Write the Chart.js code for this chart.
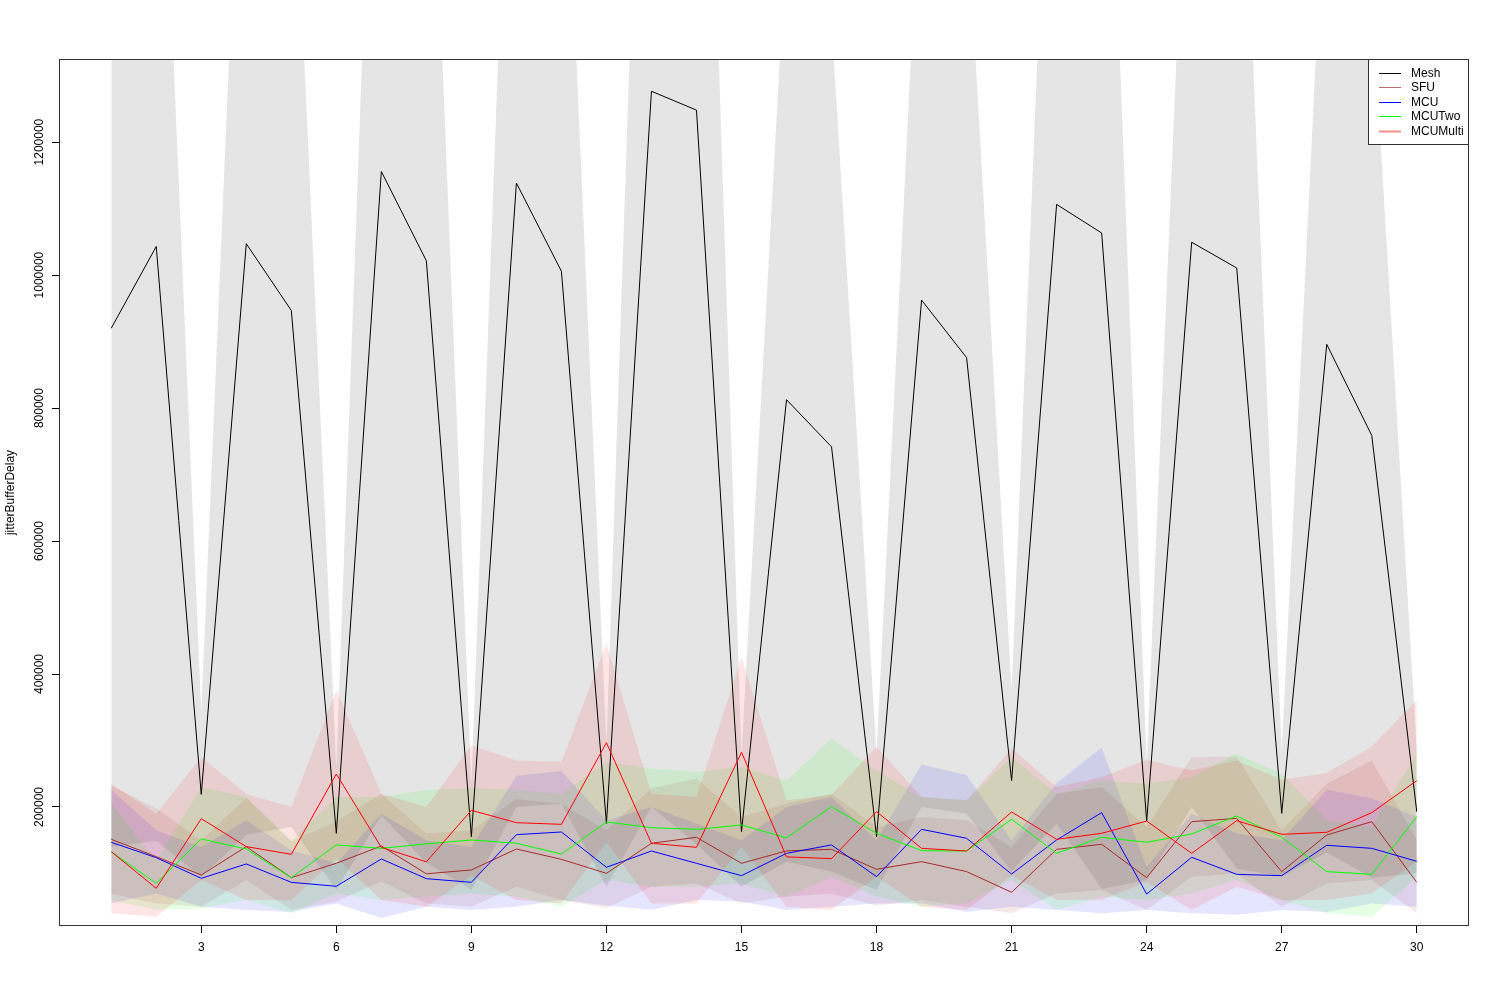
<!DOCTYPE html>
<html lang="en">
<head>
    <meta charset="UTF-8">
    <title>jitterBufferDelay</title>
    <script src="https://cdn.jsdelivr.net/npm/chart.js"></script>
    <style>
        body { margin: 0; background: #fff; }
        #chart { display: block; }
    </style>
</head>
<body>
    <canvas id="chart" width="1500" height="1000"></canvas>
    <script>
        // run index on the x axis
        const runs = [1, 2, 3, 4, 5, 6, 7, 8, 9, 10, 11, 12, 13, 14, 15, 16, 17, 18, 19, 20, 21, 22, 23, 24, 25, 26, 27, 28, 29, 30];
        const xTicks = [3, 6, 9, 12, 15, 18, 21, 24, 27, 30];
        const yTicks = [200000, 400000, 600000, 800000, 1000000, 1200000];
        const seriesNames = ['Mesh', 'SFU', 'MCU', 'MCUTwo', 'MCUMulti'];

        // Mesh
        const meshMean  = [920000, 1043000, 219000, 1047200, 946800, 160400, 1155800, 1021500, 155400, 1138500, 1005800, 175400, 1276500, 1248100, 162900, 812600, 741700, 155400, 962400, 875900, 239600, 1106300, 1063300, 178900, 1049400, 1010700, 190500, 895800, 758800, 193000];
        const meshUpper = [1700000, 1936700, 343300, 1936700, 1757500, 260600, 2124400, 1926900, 235600, 2072400, 1838500, 295700, 2309600, 2352200, 280700, 1507500, 1380900, 280700, 1651000, 1562000, 375900, 2037600, 2050100, 268100, 1869200, 1914300, 285700, 1660200, 1424000, 285700];
        const meshLower = [140000, 149300, 94700, 157700, 170000, 75000, 187200, 116100, 75200, 200000, 205000, 80000, 200000, 144000, 80000, 117700, 102500, 75000, 200000, 189800, 103300, 175000, 76500, 89700, 200000, 107100, 95300, 131400, 93600, 100300];

        // SFU
        const sfuMean  = [151400, 125300, 97700, 140400, 93700, 115300, 141400, 99500, 105300, 136800, 121300, 100200, 145400, 154400, 115300, 134000, 136300, 106300, 117800, 102800, 71700, 136300, 143900, 93700, 177900, 182900, 102800, 157900, 177900, 86700];
        const sfuUpper = [232000, 198000, 150000, 214000, 148000, 178000, 220000, 160000, 165000, 212000, 205000, 165000, 228000, 243000, 185000, 205000, 220000, 170000, 185000, 180000, 140000, 220000, 230000, 170000, 275000, 276000, 165000, 235000, 270000, 150000];
        const sfuLower = [70000, 55000, 50000, 90000, 45000, 58000, 88000, 55000, 50000, 80000, 60000, 48000, 80000, 85000, 55000, 65000, 70000, 52000, 60000, 50000, 40000, 70000, 75000, 45000, 95000, 100000, 50000, 85000, 90000, 40000];

        // MCU
        const mcuMean  = [146900, 123800, 92700, 114300, 86700, 80700, 121800, 92200, 86700, 158400, 162400, 109300, 133800, 115300, 96700, 130300, 142900, 95200, 166400, 152900, 99200, 150400, 191500, 69000, 124300, 98700, 96700, 142400, 137800, 118300];
        const mcuUpper = [226000, 165000, 140000, 180000, 135000, 115000, 190000, 150000, 140000, 247000, 254000, 180000, 200000, 175000, 150000, 200000, 215000, 150000, 264000, 248000, 150000, 236000, 289000, 110000, 190000, 160000, 150000, 226000, 213000, 185000];
        const mcuLower = [55000, 70000, 50000, 45000, 42000, 55000, 33000, 50000, 45000, 50000, 60000, 52000, 45000, 60000, 58000, 45000, 50000, 55000, 55000, 42000, 50000, 45000, 40000, 45000, 40000, 38000, 45000, 42000, 55000, 50000];

        // MCUTwo
        const mcuTwoMean  = [132800, 85200, 151900, 136800, 93700, 142900, 137800, 144500, 150400, 145400, 129300, 177400, 168900, 166400, 172900, 153600, 200500, 160400, 134300, 133800, 181500, 130300, 154400, 146900, 159400, 186500, 154400, 102800, 98700, 185500];
        const mcuTwoUpper = [205000, 120000, 230000, 215000, 150000, 215000, 215000, 226000, 228000, 226000, 220000, 268000, 258000, 253000, 260000, 240000, 303000, 255000, 215000, 210000, 275000, 220000, 240000, 235000, 245000, 280000, 250000, 180000, 170000, 280000];
        const mcuTwoLower = [60000, 45000, 47000, 60000, 40000, 70000, 60000, 65000, 70000, 65000, 50000, 90000, 80000, 80000, 85000, 65000, 95000, 65000, 50000, 55000, 90000, 45000, 65000, 60000, 70000, 90000, 60000, 40000, 35000, 95000];

        // MCUMulti
        const mcuMultiMean  = [132800, 77700, 182500, 140400, 128800, 249600, 139300, 117500, 195000, 176400, 173900, 296700, 145400, 139300, 282200, 125000, 122300, 193000, 137800, 133800, 192500, 151400, 160400, 178900, 130300, 179400, 158900, 161900, 191500, 239600];
        const mcuMultiUpper = [235000, 190000, 275000, 220000, 200000, 376000, 220000, 200000, 293000, 270000, 268000, 446000, 220000, 215000, 425000, 210000, 218000, 291000, 215000, 210000, 288000, 230000, 245000, 271000, 255000, 270000, 241000, 251000, 291000, 361000];
        const mcuMultiLower = [40000, 35000, 90000, 60000, 60000, 123000, 60000, 50000, 97000, 60000, 55000, 147000, 55000, 55000, 140000, 50000, 45000, 95000, 50000, 45000, 97000, 60000, 60000, 87000, 45000, 80000, 60000, 60000, 70000, 118000];

        const means  = [meshMean, sfuMean, mcuMean, mcuTwoMean, mcuMultiMean];
        const uppers = [meshUpper, sfuUpper, mcuUpper, mcuTwoUpper, mcuMultiUpper];
        const lowers = [meshLower, sfuLower, mcuLower, mcuTwoLower, mcuMultiLower];

        const lineColors = ['#000000', '#a52a2a', '#0000ff', '#00ff00', '#ff0000'];
        const legendColors = ['#000000', 'rgba(165,42,42,0.7)', '#0000ff', '#00ff00', 'rgba(255,0,0,0.45)'];
        const bandColors = ['rgba(0,0,0,0.1)', 'rgba(165,42,42,0.1)', 'rgba(0,0,255,0.1)', 'rgba(0,255,0,0.1)', 'rgba(255,0,0,0.1)'];

        const FONT = '"Liberation Sans", Arial, Helvetica, sans-serif';
        Chart.defaults.font.family = FONT;
        Chart.defaults.font.size = 12;
        Chart.defaults.color = '#000';

        function pts(arr) {
            return arr.map((v, i) => ({ x: runs[i], y: v }));
        }

        const datasets = [];
        // lines first: dataset 0 is painted last, so reverse to keep MCUMulti on top
        for (let i = seriesNames.length - 1; i >= 0; i--) {
            datasets.push({
                label: seriesNames[i],
                data: pts(means[i]),
                borderColor: lineColors[i],
                borderWidth: 1,
                pointRadius: 0,
                fill: false,
                tension: 0
            });
        }
        // bands: upper filled down to the lower one right after it
        for (let i = seriesNames.length - 1; i >= 0; i--) {
            datasets.push({
                label: seriesNames[i] + ' upper',
                data: pts(uppers[i]),
                borderWidth: 0,
                pointRadius: 0,
                backgroundColor: bandColors[i],
                fill: '+1'
            });
            datasets.push({
                label: seriesNames[i] + ' lower',
                data: pts(lowers[i]),
                borderWidth: 0,
                pointRadius: 0,
                fill: false
            });
        }

        // box, rotated y labels and legend like base R graphics
        const rStyle = {
            id: 'rStyle',
            afterDraw(chart) {
                const ctx = chart.ctx;
                const a = chart.chartArea;
                const yScale = chart.scales.y;
                ctx.save();

                ctx.strokeStyle = '#333';
                ctx.lineWidth = 1;
                ctx.strokeRect(Math.round(a.left) + 0.5, Math.round(a.top) + 0.5,
                    Math.round(a.right - a.left) - 1, Math.round(a.bottom - a.top) - 1);

                ctx.fillStyle = '#000';
                ctx.font = '12px ' + FONT;
                ctx.textAlign = 'center';
                ctx.textBaseline = 'alphabetic';
                yTicks.forEach(v => {
                    const py = yScale.getPixelForValue(v);
                    ctx.save();
                    ctx.translate(a.left - 16.5, py);
                    ctx.rotate(-Math.PI / 2);
                    ctx.fillText(String(v), 0, 0);
                    ctx.restore();
                });

                // legend
                const lw = 101, lh = 86;
                const lx = Math.round(a.right) - lw, ly = Math.round(a.top);
                ctx.fillStyle = '#fff';
                ctx.fillRect(lx, ly, lw, lh);
                ctx.strokeStyle = '#333';
                ctx.strokeRect(lx + 0.5, ly + 0.5, lw - 1, lh - 1);
                ctx.textAlign = 'left';
                ctx.textBaseline = 'middle';
                seriesNames.forEach((name, i) => {
                    const ry = Math.round(ly + 14 + i * 14.4) + 0.5;
                    ctx.strokeStyle = legendColors[i];
                    ctx.lineWidth = i === 4 ? 2 : 1;
                    ctx.beginPath();
                    ctx.moveTo(lx + 11, ry);
                    ctx.lineTo(lx + 33, ry);
                    ctx.stroke();
                    ctx.fillStyle = '#000';
                    ctx.fillText(name, lx + 43, ry);
                });
                ctx.restore();
            }
        };

        new Chart(document.getElementById('chart'), {
            type: 'line',
            data: { datasets: datasets },
            options: {
                responsive: false,
                animation: false,
                events: [],
                layout: { padding: { top: 59, right: 31, bottom: 0, left: 0 } },
                plugins: {
                    legend: { display: false },
                    tooltip: { enabled: false },
                    filler: { drawTime: 'beforeDatasetsDraw' }
                },
                scales: {
                    x: {
                        type: 'linear',
                        min: -0.16,
                        max: 31.16,
                        afterBuildTicks: s => { s.ticks = xTicks.map(v => ({ value: v })); },
                        afterFit: s => { s.height = 74; },
                        ticks: { padding: 7, maxRotation: 0, autoSkip: false, color: '#000', font: { size: 12 } },
                        grid: { display: true, drawOnChartArea: false, drawTicks: true, tickLength: 7, color: '#000', lineWidth: 1 },
                        border: { display: false }
                    },
                    y: {
                        type: 'linear',
                        min: 21000,
                        max: 1325000,
                        afterBuildTicks: s => { s.ticks = yTicks.map(v => ({ value: v })); },
                        afterFit: s => { s.width = 59; },
                        ticks: { display: false },
                        grid: { display: true, drawOnChartArea: false, drawTicks: true, tickLength: 7, color: '#000', lineWidth: 1 },
                        border: { display: false },
                        title: { display: true, text: 'jitterBufferDelay', color: '#000', font: { size: 12 }, padding: { top: 3, bottom: 0 } }
                    }
                }
            },
            plugins: [rStyle]
        });
    </script>
</body>
</html>
